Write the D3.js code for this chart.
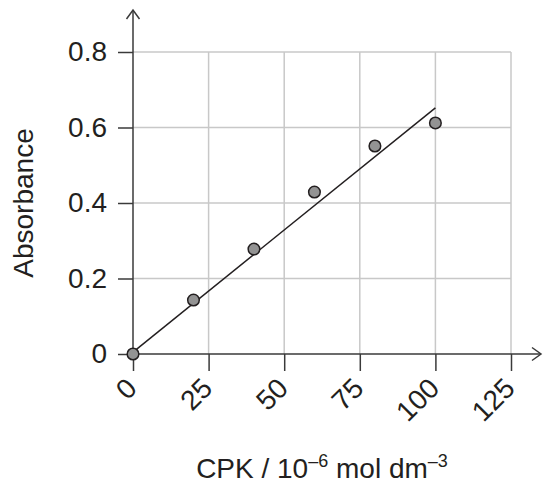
<!DOCTYPE html>
<html>
<head>
<meta charset="utf-8">
<script src="https://cdn.jsdelivr.net/npm/d3@7"></script>
<style>
	body { margin: 0; background: #fff; }
	text { font-family: 'Liberation Sans', Arial, sans-serif; fill: #231f20; }
</style>
</head>
<body>
<script>
'use strict';

// data
var concentration = [0, 20, 40, 60, 80, 100],
	absorbance = [0, 0.143, 0.278, 0.429, 0.551, 0.612],
	fitX = [0, 100],
	fitY = [0.005, 0.652],
	xTicks = [0, 25, 50, 75, 100, 125],
	yTicks = [0, 0.2, 0.4, 0.6, 0.8];

var W = 543, H = 484,
	margin = {top: 52, right: 32, bottom: 130, left: 133},
	width = W - margin.left - margin.right,
	height = H - margin.top - margin.bottom,
	fontSize = 28,
	axisColor = '#3a3a3a',
	gridColor = '#c8c8c8';

var x = d3.scaleLinear().domain([0, 125]).range([0, width]),
	y = d3.scaleLinear().domain([0, 0.8]).range([height, 0]);

var svg = d3.select('body').append('svg')
	.attr('width', W)
	.attr('height', H);

var g = svg.append('g')
	.attr('transform', 'translate(' + margin.left + ',' + margin.top + ')');

// grid
g.selectAll('.vgrid')
	.data(xTicks.slice(1)).enter()
	.append('line')
		.attr('x1', function(d) { return x(d); })
		.attr('x2', function(d) { return x(d); })
		.attr('y1', 0)
		.attr('y2', height)
		.attr('stroke', gridColor)
		.attr('stroke-width', 1.5);

g.selectAll('.hgrid')
	.data(yTicks.slice(1)).enter()
	.append('line')
		.attr('x1', 0)
		.attr('x2', x(125))
		.attr('y1', function(d) { return y(d); })
		.attr('y2', function(d) { return y(d); })
		.attr('stroke', gridColor)
		.attr('stroke-width', 1.5);

// x axis with rotated labels
var xAxis = g.append('g')
	.attr('transform', 'translate(0,' + height + ')')
	.call(d3.axisBottom(x).tickValues(xTicks).tickSize(17).tickSizeOuter(0));

xAxis.select('.domain').remove();
xAxis.selectAll('line').attr('stroke', axisColor).attr('stroke-width', 1.5);
xAxis.selectAll('text')
	.attr('font-size', fontSize)
	.attr('fill', '#231f20')
	.attr('text-anchor', 'end')
	.attr('dy', null)
	.attr('y', null)
	.attr('transform', 'translate(5,36) rotate(-45)');

// y axis
var yAxis = g.append('g')
	.call(d3.axisLeft(y).tickValues(yTicks).tickSize(15).tickPadding(11)
		.tickFormat(function(d) { return d === 0 ? '0' : d3.format('.1f')(d); }));

yAxis.select('.domain').remove();
yAxis.selectAll('line').attr('stroke', axisColor).attr('stroke-width', 1.5);
yAxis.selectAll('text')
	.attr('font-size', fontSize)
	.attr('fill', '#231f20');

// axis lines with open arrow heads
g.append('line')
	.attr('x1', 0).attr('x2', 0)
	.attr('y1', height).attr('y2', -42)
	.attr('stroke', axisColor).attr('stroke-width', 1.5);

g.append('path')
	.attr('d', 'M-6.5,-33L0,-42L6.5,-33')
	.attr('fill', 'none')
	.attr('stroke', axisColor)
	.attr('stroke-width', 1.5);

g.append('line')
	.attr('x1', 0).attr('x2', width + 30)
	.attr('y1', height).attr('y2', height)
	.attr('stroke', axisColor).attr('stroke-width', 1.5);

g.append('path')
	.attr('d', 'M' + (width + 21) + ',' + (height - 6.5) + 'L' + (width + 30) + ',' + height +
		'L' + (width + 21) + ',' + (height + 6.5))
	.attr('fill', 'none')
	.attr('stroke', axisColor)
	.attr('stroke-width', 1.5);

// best fit line
g.append('line')
	.attr('x1', x(fitX[0])).attr('y1', y(fitY[0]))
	.attr('x2', x(fitX[1])).attr('y2', y(fitY[1]))
	.attr('stroke', '#231f20')
	.attr('stroke-width', 1.5);

// points
g.selectAll('.dot')
	.data(concentration).enter()
	.append('circle')
		.attr('cx', function(d) { return x(d); })
		.attr('cy', function(d, i) { return y(absorbance[i]); })
		.attr('r', 5.8)
		.attr('fill', '#939393')
		.attr('stroke', '#231f20')
		.attr('stroke-width', 1.5);

// axis titles
svg.append('text')
	.attr('transform', 'translate(33,' + (margin.top + height / 2) + ') rotate(-90)')
	.attr('text-anchor', 'middle')
	.attr('font-size', fontSize)
	.text('Absorbance');

var xt = svg.append('text')
	.attr('x', margin.left + x(62.5))
	.attr('y', 478)
	.attr('text-anchor', 'middle')
	.attr('font-size', fontSize);

xt.append('tspan').text('CPK / 10');
xt.append('tspan').attr('font-size', 18).attr('dy', -11).text('\u20136');
xt.append('tspan').attr('dy', 11).text(' mol dm');
xt.append('tspan').attr('font-size', 18).attr('dy', -11).text('\u20133');
</script>
</body>
</html>
